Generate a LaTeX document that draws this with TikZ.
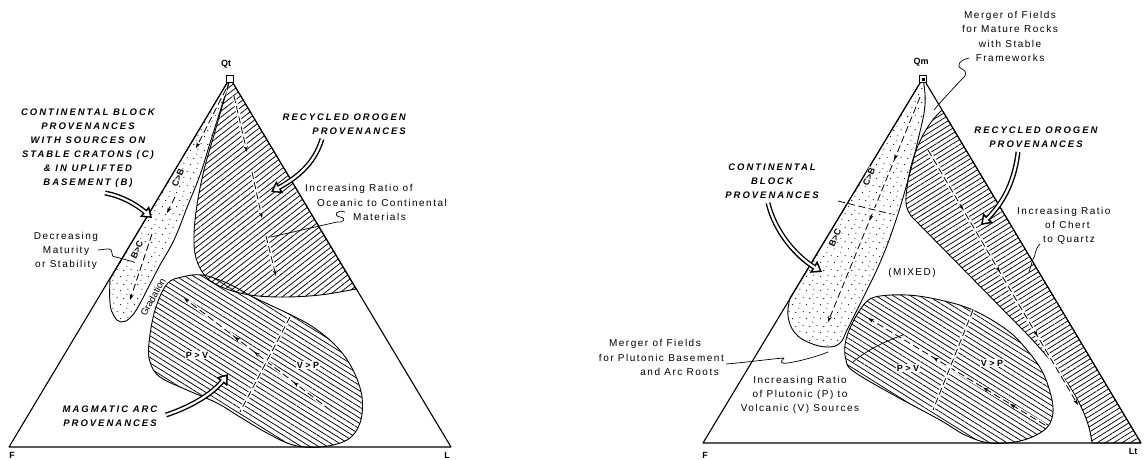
\documentclass[tikz,border=0pt]{standalone}
\usepackage{fontspec}
\setmainfont{Liberation Sans}
\newfontfamily\capfont[LetterSpace=21]{Liberation Sans}
\newfontfamily\txtfont[LetterSpace=15]{Liberation Sans}
\usetikzlibrary{patterns,patterns.meta,arrows.meta,decorations.markings}
\pgfdeclarepatternformonly{stipple}{\pgfpointorigin}{\pgfpoint{14pt}{14pt}}{\pgfpoint{14pt}{14pt}}{%
  \pgfpathcircle{\pgfpoint{2pt}{3pt}}{0.6pt}%
  \pgfpathcircle{\pgfpoint{9pt}{1.5pt}}{0.6pt}%
  \pgfpathcircle{\pgfpoint{5.5pt}{9pt}}{0.6pt}%
  \pgfpathcircle{\pgfpoint{12.5pt}{8pt}}{0.6pt}%
  \pgfpathcircle{\pgfpoint{1pt}{12.5pt}}{0.55pt}%
  \pgfusepath{fill}}
\newcommand\fatarr[1]{\draw[fatout] #1; \draw[fatin] #1;}
\begin{document}
\begin{tikzpicture}[x=1pt,y=-1pt,line join=round,
  edgeline/.style={line width=1.1pt},
  reg/.style={line width=0.9pt},
  stip/.style={reg,pattern=stipple},
  hatchA/.style={reg,pattern={Lines[angle=38,distance=4.6pt,line width=0.75pt]}},
  hatchB/.style={reg,pattern={Lines[angle=-32,distance=4.6pt,line width=0.75pt]}},
  hatchC/.style={reg,pattern={Lines[angle=32,distance=4.4pt,line width=0.75pt]}},
  dl/.style={line width=0.8pt,dash pattern=on 7pt off 3.5pt,preaction={draw=white,line width=3.5pt,solid}},
  tipd/.style={-{Stealth[length=6pt,width=4pt]}},
  marr/.style={postaction={decorate,decoration={markings,mark=at position #1 with {\arrow{Stealth[length=6pt,width=4pt]}}}}},
  leader/.style={line width=0.7pt},
  fatout/.style={line width=5pt,-{Triangle[length=10pt,width=13.5pt]}},
  fatin/.style={white,line width=2.2pt,shorten >=2.8pt,-{Triangle[length=5.5pt,width=7.5pt]}},
  capt/.style={font=\capfont\bfseries\itshape\fontsize{9.5}{14}\selectfont,align=center,inner sep=0pt},
  txt/.style={font=\txtfont\fontsize{10}{14.3}\selectfont,inner sep=0pt},
  corner/.style={font=\bfseries\fontsize{9}{10}\selectfont,inner sep=0pt},
  ratio/.style={font=\bfseries\fontsize{9}{10}\selectfont,fill=white,inner sep=1pt},
  bandlab/.style={font=\bfseries\fontsize{9}{10}\selectfont,fill=white,inner sep=0.8pt,rotate=66}]
\fill[white] (0,0) rectangle (1146,459);
\useasboundingbox (0,0) rectangle (1146,459);

% ================= LEFT DIAGRAM =================
\coordinate (QtA) at (230,78);
\coordinate (FA) at (9,447);
\coordinate (LA) at (451,447);

% continental block band (stippled)
\draw[stip] (QtA) -- (110,279) -- plot[smooth,tension=0.7] coordinates {(110,279) (110,303) (114,316) (121,322) (130,318) (138,307) (148,288) (160,265) (174,240) (188,205) (200,175) (211,140) (222,105) (230,79)} -- cycle;
% recycled orogen (hatched)
\draw[hatchA] (QtA) -- (356,289) -- plot[smooth,tension=0.6] coordinates {(356,289) (320,295) (283,297) (250,295) (224,288) (206,277) (196,258) (194,235) (197,205) (204,170) (214,135) (224,100) (230,79)} -- cycle;
% magmatic arc (hatched)
\draw[hatchB] plot[smooth cycle,tension=0.6] coordinates {(182,277) (202,275) (227,283) (253,297) (287,313) (313,327) (337,347) (353,370) (362,397) (360,423) (347,440) (320,447) (293,445) (267,433) (240,417) (217,403) (187,390) (160,377) (150,362) (149,343) (155,310) (167,284)};

% internal dashed arrows
\draw[dl,tipd] (226,89) -- (196,148);
\draw[dl,tipd] (175,197) -- (167,213);
\draw[dl,tipd] (152,234) -- (130,300);
\draw[dl,tipd] (234,96) -- (247,152);
\draw[dl,tipd] (252,172) -- (262,218);
\draw[dl,tipd] (266,236) -- (276,276);
\draw[dl,tipd,marr=0.25,marr=0.52,marr=0.655] (330,410) -- (184,298);
\draw[dl] (290,317) -- (240,412);

% triangle
\draw[edgeline] (FA) -- (QtA) -- (LA) -- cycle;
\node[draw,fill=white,minimum size=7pt,inner sep=0pt,line width=0.9pt] (boxQt) at (230,79) {};

% labels in regions
\node[bandlab] (cb1a) at (178,178) {C>B};
\node[bandlab] (bc1a) at (137,250) {B>C};
\node[font=\fontsize{9.5}{11}\selectfont,inner sep=0pt,rotate=61] (grad) at (153,297) {Gradation};
\node[ratio] (pv1) at (197,355) {P > V};
\node[ratio] (vp1) at (308,365) {V > P};

% corner labels
\node[corner] (lQt) at (226,64) {Qt};
\node[corner] (lF1) at (12,455) {F};
\node[corner] (lL1) at (447,455) {L};

% text blocks
\node[capt] (cb1) at (88,148.5) {CONTINENTAL BLOCK\\PROVENANCES\\WITH SOURCES ON\\STABLE CRATONS (C)\\\& IN UPLIFTED\\BASEMENT (B)};
\node[capt,align=right,anchor=east] (ro1) at (406,124.5) {RECYCLED OROGEN\\PROVENANCES};
\node[capt] (ma1) at (110,416.5) {MAGMATIC ARC\\PROVENANCES};
\node[txt,align=left,anchor=west] (inc1) at (305,202.5) {Increasing Ratio of\\\hspace*{12pt}Oceanic to Continental\\\hspace*{48pt}Materials};
\node[txt,align=center] (dec1) at (66,251) {Decreasing\\Maturity\\or Stability};

% fat arrows
\coordinate (fa1s) at (105,193); \coordinate (fa1e) at (152,218);
\fatarr{(fa1s) .. controls (122,196) and (137,205) .. (fa1e)}
\coordinate (fa2s) at (322,139); \coordinate (fa2e) at (271,192);
\fatarr{(fa2s) .. controls (314,165) and (296,178) .. (fa2e)}
\coordinate (fa3s) at (166,415); \coordinate (fa3e) at (228,374);
\fatarr{(fa3s) .. controls (193,406) and (213,393) .. (fa3e)}

% leaders
\coordinate (ld1s) at (345,212); \coordinate (ld1e) at (271,237);
\draw[leader] (ld1s) .. controls (336,209) and (333,216) .. (340,217) .. controls (347,218) and (344,223) .. (337,222) -- (ld1e);
\coordinate (ld2s) at (98,250); \coordinate (ld2e) at (134,262);
\draw[leader] (ld2s) -- (107,249) .. controls (116,248) and (108,257) .. (116,257) -- (ld2e);

% ================= RIGHT DIAGRAM =================
\coordinate (QmB) at (923,78);
\coordinate (FB) at (703,443);
\coordinate (LtB) at (1141,443);

% recycled orogen band (hatched)
\draw[hatchC] (942,110) -- (LtB) -- (1092,443) .. controls (1088,405) and (1058,366) .. (1023,330) -- (913,218) .. controls (905,210) and (905,200) .. (907,188) .. controls (910,160) and (922,128) .. (942,110) -- cycle;
% continental block band (stippled)
\draw[stip] (QmB) -- (790,298) -- plot[smooth,tension=0.7] coordinates {(790,298) (788,316) (795,333) (810,343) (828,347) (840,343) (847,330) (856,312) (867,290) (882,258) (896,220) (908,180) (918,140) (925,105) (923,79)} -- cycle;
% magmatic arc (hatched)
\draw[hatchB] plot[smooth cycle,tension=0.6] coordinates {(875,297) (907,295) (940,300) (973,310) (1007,330) (1027,350) (1043,373) (1052,400) (1052,418) (1043,431) (1020,441) (990,443) (965,435) (940,420) (890,393) (853,371) (846,360) (845,345) (850,328) (862,307)};

% internal dashed arrows
\draw[dl,tipd,marr=0.28,marr=0.55] (920,97) -- (828,322);
\draw[dl] (838,201) -- (891,214);
\draw[dl,tipd,marr=0.235,marr=0.48,marr=0.73] (928,150) -- (1078,405);
\draw[dl,tipd,marr=0.198,marr=0.35,marr=0.633] (1045,425) -- (868,318);
\draw[dl] (973,310) -- (933,410);

% triangle
\draw[edgeline] (FB) -- (QmB) -- (LtB) -- cycle;
\node[draw,fill=white,minimum size=7pt,inner sep=0pt,line width=0.9pt] (boxQm) at (923,79) {};
\fill (921.5,77.5) rectangle (924.5,80.5);

% labels in regions
\node[bandlab] (cb2a) at (869,177) {C>B};
\node[bandlab] (bc2a) at (835,238) {B>C};
\node[ratio] (pv2) at (908,368) {P > V};
\node[ratio] (vp2) at (992,363) {V > P};
\node[txt] (mixed) at (912,273) {(MIXED)};

% corner labels
\node[corner] (lQm) at (921,62) {Qm};
\node[corner] (lF2) at (705,455) {F};
\node[corner] (lLt) at (1133,451) {Lt};

% text blocks
\node[txt,align=center] (mf2) at (1010,36.5) {Merger of Fields\\for Mature Rocks\\with Stable\\Frameworks};
\node[capt] (cb2) at (772,181) {CONTINENTAL\\BLOCK\\PROVENANCES};
\node[capt] (ro2) at (1036,137.5) {RECYCLED OROGEN\\PROVENANCES};
\node[txt,align=left,anchor=west] (inc2) at (1017,226) {Increasing Ratio\\\hspace*{28pt}of Chert\\\hspace*{26pt}to Quartz};
\node[txt,align=right,anchor=east] (mp2) at (724,357.5) {Merger of Fields\hspace*{23pt}\\for Plutonic Basement\\and Arc Roots\hspace*{5pt}};
\node[txt,align=center] (ip2) at (800,395) {Increasing Ratio\\of Plutonic (P) to\\Volcanic (V) Sources};

% fat arrows
\coordinate (fb1s) at (768,203); \coordinate (fb1e) at (822,272);
\fatarr{(fb1s) .. controls (775,232) and (796,256) .. (fb1e)}
\coordinate (fb2s) at (1018,152); \coordinate (fb2e) at (981,225);
\fatarr{(fb2s) .. controls (1014,186) and (1000,206) .. (fb2e)}

% leaders
\coordinate (le1s) at (969,58); \coordinate (le1e) at (934,110);
\draw[leader] (le1s) .. controls (960,60) and (955,66) .. (962,69) .. controls (968,72) and (966,76) .. (961,80) .. controls (952,90) and (942,100) .. (le1e);
\coordinate (le2s) at (726,364); \coordinate (le2e) at (828,352);
\draw[leader] (le2s) .. controls (750,362) and (770,359) .. (784,358) .. controls (780,362) and (780,364) .. (788,363) .. controls (805,360) and (818,356) .. (le2e);
\coordinate (le3s) at (853,362); \coordinate (le3e) at (903,335);
\draw[leader] (le3s) .. controls (865,352) and (880,343) .. (le3e);
\coordinate (le4s) at (1040,244); \coordinate (le4e) at (1029,272);
\draw[leader] (le4s) .. controls (1034,250) and (1036,256) .. (1033,259) -- (le4e);
\end{tikzpicture}
\end{document}
